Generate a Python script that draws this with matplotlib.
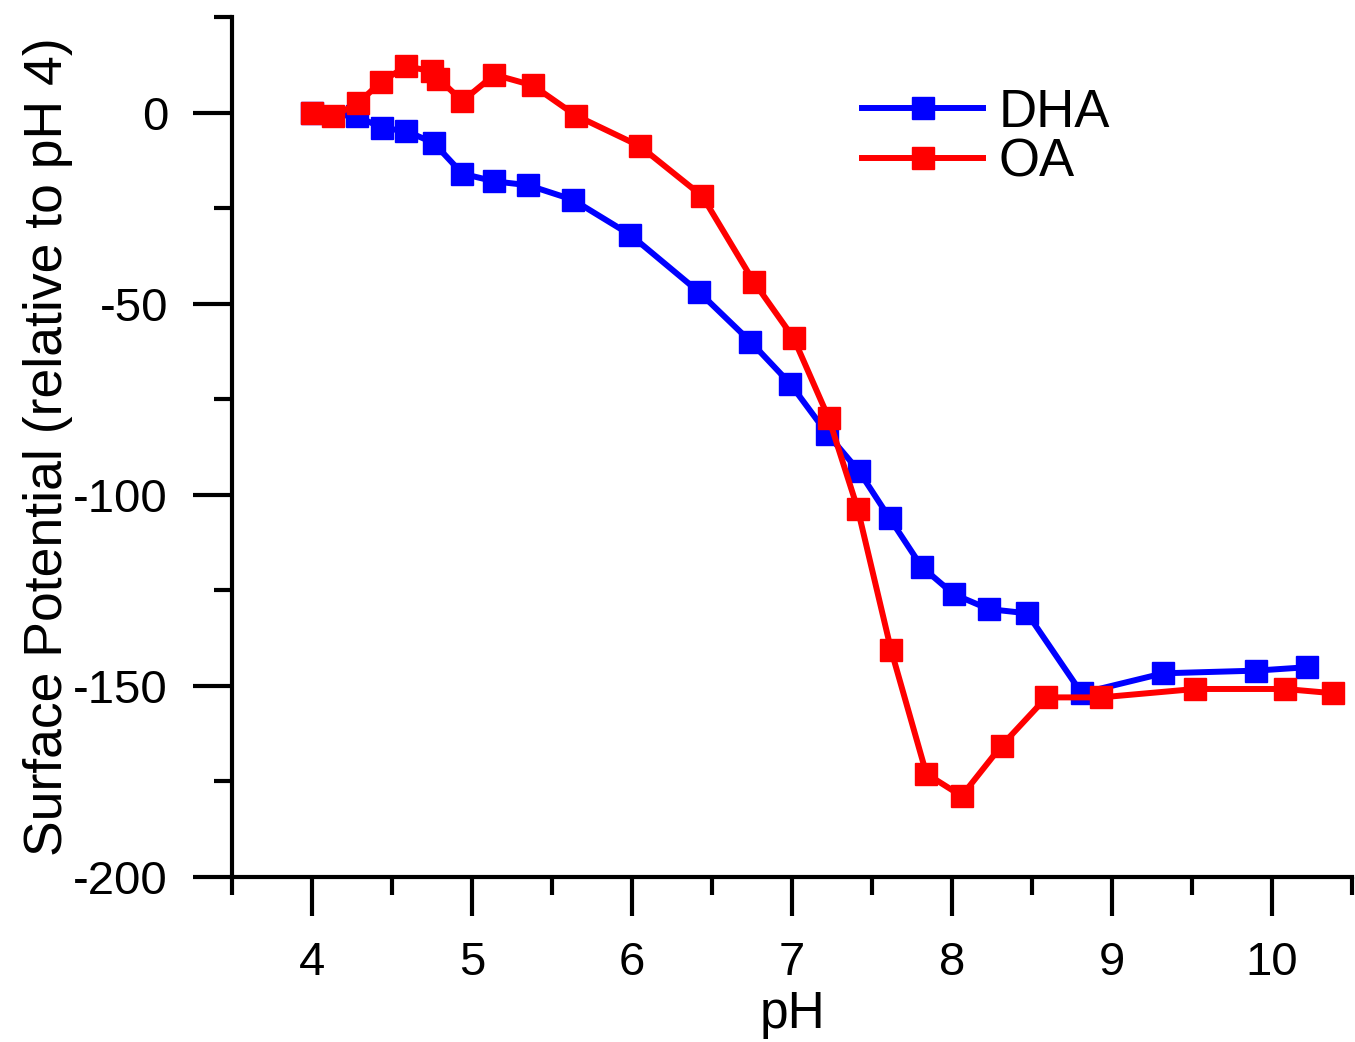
import matplotlib
matplotlib.use("Agg")
import matplotlib.pyplot as plt
from matplotlib.ticker import MultipleLocator

plt.rcParams['font.family'] = ['Liberation Sans', 'DejaVu Sans']
plt.rcParams['axes.unicode_minus'] = False

# DHA series (pH, surface potential relative to pH 4)
dha_ph = [4.0, 4.28, 4.44, 4.59, 4.76, 4.94, 5.14, 5.35, 5.63, 5.99,
          6.42, 6.74, 6.99, 7.22, 7.42, 7.61, 7.81, 8.01, 8.23, 8.47,
          8.81, 9.32, 9.90, 10.22]
dha_sp = [0, -1, -4, -4.9, -7.9, -16, -18, -19, -22.8, -32,
          -47, -59.9, -71, -84, -93.9, -106.1, -118.8, -126, -129.9, -131,
          -151.9, -146.7, -146, -145.1]

# OA series
oa_ph = [4.0, 4.13, 4.29, 4.43, 4.59, 4.75, 4.79, 4.94, 5.14, 5.38,
         5.65, 6.05, 6.44, 6.76, 7.01, 7.23, 7.41, 7.62, 7.84, 8.06,
         8.31, 8.59, 8.93, 9.52, 10.08, 10.38]
oa_sp = [0, -1, 2.5, 8, 12.1, 10.8, 8.9, 3.0, 9.9, 7.1,
         -0.8, -8.8, -21.9, -44.2, -59, -80, -103.6, -140.7, -173, -178.8,
         -165.6, -153, -153, -150.8, -150.8, -151.9]

fig = plt.figure(figsize=(13.55, 10.42), dpi=100)
ax = fig.add_axes([0.1712, 0.1583, 0.8266, 0.8254])

ax.plot(dha_ph, dha_sp, '-s', color='#0000ff', lw=4.3, ms=16, label='DHA', clip_on=False)
ax.plot(oa_ph, oa_sp, '-s', color='#ff0000', lw=4.3, ms=16, label='OA', clip_on=False)

ax.set_xlim(3.5, 10.5)
ax.set_ylim(-200, 25)
ax.xaxis.set_major_locator(MultipleLocator(1))
ax.xaxis.set_minor_locator(MultipleLocator(0.5))
ax.yaxis.set_major_locator(MultipleLocator(50))
ax.yaxis.set_minor_locator(MultipleLocator(25))

for s in ['top', 'right']:
    ax.spines[s].set_visible(False)
for s in ['left', 'bottom']:
    ax.spines[s].set_linewidth(3)

ax.tick_params(which='major', length=28, width=3, labelsize=34, pad=18, direction='out')
ax.tick_params(which='minor', length=13, width=3, direction='out')
for t in ax.xaxis.get_minor_ticks() + ax.yaxis.get_minor_ticks():
    t.tick1line.set_clip_on(False)

ax.set_xlabel('pH', fontsize=37, labelpad=4)
ax.set_ylabel('Surface Potential (relative to pH 4)', fontsize=38.5, labelpad=0)

ax.legend(loc='upper left', bbox_to_anchor=(0.5625, 0.918), frameon=False, fontsize=38,
          handlelength=2.3, handletextpad=0.28, labelspacing=0.0, borderpad=0, borderaxespad=0)

fig.savefig('out.png', dpi=100)
